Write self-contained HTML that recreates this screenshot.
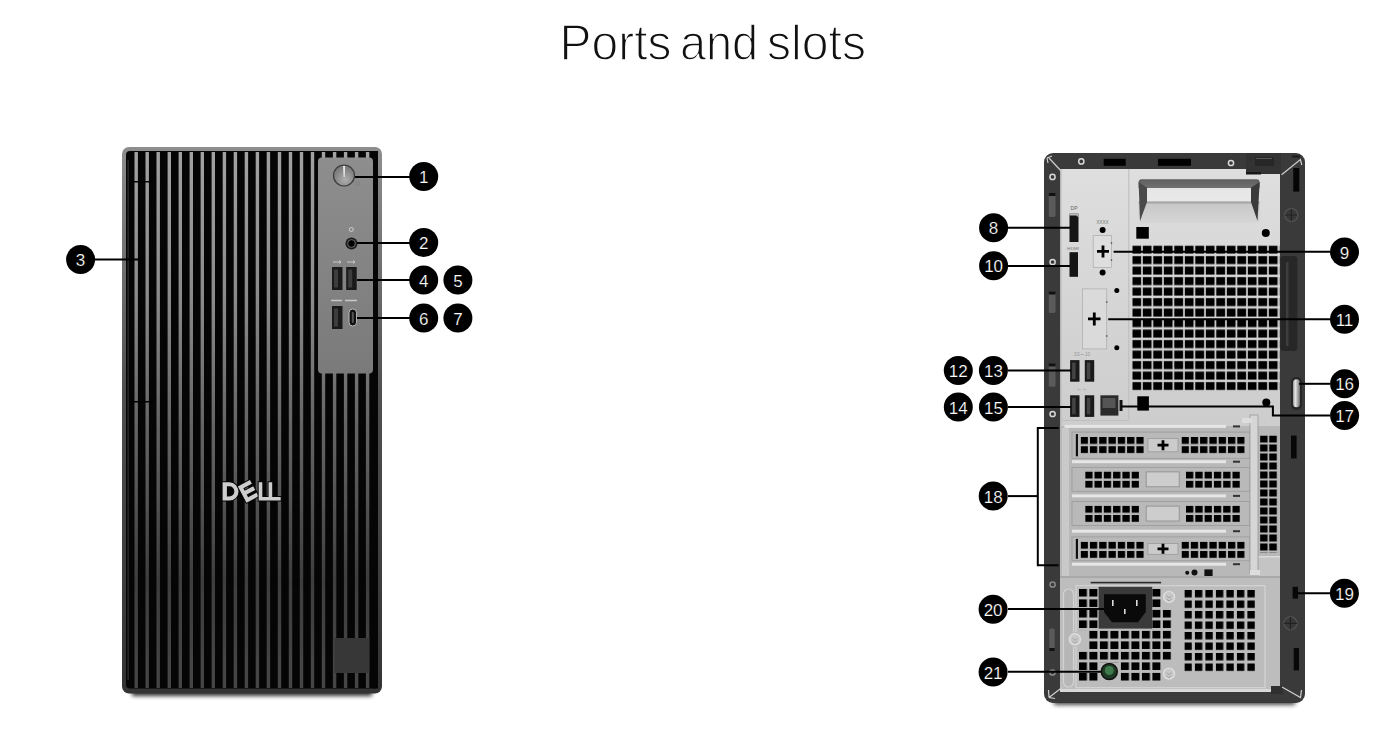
<!DOCTYPE html>
<html><head><meta charset="utf-8">
<style>
html,body{margin:0;padding:0;background:#fff;}
body{width:1376px;height:746px;overflow:hidden;position:relative;}
.title{position:absolute;left:0;top:0;width:1376px;text-align:center;font-family:"Liberation Sans",sans-serif;}
svg{position:absolute;left:0;top:0;}
.n{font-family:"Liberation Sans",sans-serif;font-size:17px;fill:#fff;stroke:#000;stroke-width:0.2px;text-anchor:middle;}
.t{font-family:"Liberation Sans",sans-serif;font-size:50px;fill:#111;}
</style></head><body>
<svg width="1376" height="746" viewBox="0 0 1376 746">
<text x="559.6" y="59.6" class="t" textLength="111.8" lengthAdjust="spacingAndGlyphs" stroke="#fff" stroke-width="1.4">Ports</text>
<text x="679.9" y="59.6" class="t" textLength="78.2" lengthAdjust="spacingAndGlyphs" stroke="#fff" stroke-width="1.4">and</text>
<text x="767" y="59.6" class="t" textLength="99" lengthAdjust="spacingAndGlyphs" stroke="#fff" stroke-width="1.4">slots</text>
<defs><linearGradient id="fbord" x1="0" y1="0" x2="0" y2="1"><stop offset="0" stop-color="#8e8e8e"/><stop offset="0.45" stop-color="#4f4f4f"/><stop offset="1" stop-color="#333"/></linearGradient><linearGradient id="fstripe" x1="0" y1="151" x2="0" y2="690" gradientUnits="userSpaceOnUse"><stop offset="0.000" stop-color="#a2a2a2"/><stop offset="0.091" stop-color="#9a9a9a"/><stop offset="0.276" stop-color="#8a8a8a"/><stop offset="0.499" stop-color="#666"/><stop offset="0.629" stop-color="#565656"/><stop offset="0.796" stop-color="#3e3e3e"/><stop offset="0.944" stop-color="#444"/><stop offset="1.000" stop-color="#444"/></linearGradient><filter id="sblur" x="-5%" y="-5%" width="110%" height="110%"><feGaussianBlur stdDeviation="0.65"/></filter><linearGradient id="fpanel" x1="0" y1="0" x2="0" y2="1"><stop offset="0" stop-color="#8e8e8e"/><stop offset="1" stop-color="#7a7a7a"/></linearGradient><radialGradient id="pbtn" cx="0.55" cy="0.7" r="0.75"><stop offset="0" stop-color="#adadad"/><stop offset="1" stop-color="#6e6e6e"/></radialGradient><linearGradient id="shadow" x1="0" y1="0" x2="0" y2="1"><stop offset="0" stop-color="#000" stop-opacity="0.7"/><stop offset="0.5" stop-color="#000" stop-opacity="0.3"/><stop offset="1" stop-color="#000" stop-opacity="0"/></linearGradient></defs>
<defs><filter id="shb" x="-20%" y="-100%" width="140%" height="300%"><feGaussianBlur stdDeviation="2.2"/></filter></defs>
<rect x="132" y="689" width="240" height="7" fill="#000" opacity="0.8" filter="url(#shb)"/>
<rect x="122" y="147" width="260" height="546.6" rx="7" fill="url(#fbord)"/>
<rect x="126" y="151" width="252" height="537.5" rx="4" fill="#050505"/>
<g filter="url(#sblur)">
<rect x="134.5" y="152" width="3.4" height="536" fill="url(#fstripe)"/>
<rect x="145.5" y="152" width="3.4" height="536" fill="url(#fstripe)"/>
<rect x="156.5" y="152" width="3.4" height="536" fill="url(#fstripe)"/>
<rect x="167.6" y="152" width="3.4" height="536" fill="url(#fstripe)"/>
<rect x="178.6" y="152" width="3.4" height="536" fill="url(#fstripe)"/>
<rect x="189.6" y="152" width="3.4" height="536" fill="url(#fstripe)"/>
<rect x="200.6" y="152" width="3.4" height="536" fill="url(#fstripe)"/>
<rect x="211.6" y="152" width="3.4" height="536" fill="url(#fstripe)"/>
<rect x="222.7" y="152" width="3.4" height="536" fill="url(#fstripe)"/>
<rect x="233.7" y="152" width="3.4" height="536" fill="url(#fstripe)"/>
<rect x="244.7" y="152" width="3.4" height="536" fill="url(#fstripe)"/>
<rect x="255.7" y="152" width="3.4" height="536" fill="url(#fstripe)"/>
<rect x="266.7" y="152" width="3.4" height="536" fill="url(#fstripe)"/>
<rect x="277.8" y="152" width="3.4" height="536" fill="url(#fstripe)"/>
<rect x="288.8" y="152" width="3.4" height="536" fill="url(#fstripe)"/>
<rect x="299.8" y="152" width="3.4" height="536" fill="url(#fstripe)"/>
<rect x="310.8" y="152" width="3.4" height="536" fill="url(#fstripe)"/>
<rect x="321.8" y="152" width="3.4" height="536" fill="url(#fstripe)"/>
<rect x="332.9" y="152" width="3.4" height="536" fill="url(#fstripe)"/>
<rect x="343.9" y="152" width="3.4" height="536" fill="url(#fstripe)"/>
<rect x="354.9" y="152" width="3.4" height="536" fill="url(#fstripe)"/>
<rect x="365.9" y="152" width="3.4" height="536" fill="url(#fstripe)"/>
</g>
<rect x="127.5" y="160" width="1.2" height="520" fill="#333"/>
<rect x="318" y="157.5" width="55" height="216" rx="4" fill="url(#fpanel)"/>
<rect x="373" y="151" width="5" height="537.5" fill="#050505"/>
<circle cx="344" cy="175.5" r="10.5" fill="url(#pbtn)" stroke="#3a3a3a" stroke-width="1.2"/>
<path d="M343,166 L345.2,166 L344.7,177 L343.6,177 Z" fill="#e6e6e6"/>
<circle cx="357.5" cy="183.5" r="2" fill="none" stroke="#7a7a7a" stroke-width="0.7"/>
<circle cx="351.3" cy="229.5" r="2" fill="none" stroke="#d0d0d0" stroke-width="1"/>
<circle cx="351.5" cy="243.5" r="6" fill="#1c1c1c"/>
<circle cx="351.5" cy="243.5" r="3.9" fill="none" stroke="#707070" stroke-width="0.9"/>
<circle cx="351.5" cy="243.5" r="2.9" fill="#000"/>
<path d="M333,262 h8 M339,260.5 l2,1.5 l-2,1.5 M347,262 h8 M353,260.5 l2,1.5 l-2,1.5" stroke="#c8c8c8" stroke-width="1" fill="none"/>
<rect x="332" y="267" width="10.5" height="23" fill="#1a1a1a"/>
<rect x="334" y="269.5" width="4" height="18" fill="#3d3d3d"/>
<rect x="346.2" y="267" width="10.5" height="23" fill="#1a1a1a"/>
<rect x="348.2" y="269.5" width="4" height="18" fill="#3d3d3d"/>
<path d="M331,300.5 h11 M345,300.5 h12" stroke="#c8c8c8" stroke-width="1.6" fill="none"/>
<rect x="332" y="306" width="10.5" height="23" fill="#1a1a1a"/>
<rect x="334" y="308.5" width="4" height="18" fill="#3d3d3d"/>
<rect x="349" y="309" width="7.6" height="17" rx="3.8" fill="#111" stroke="#bbb" stroke-width="1"/>
<rect x="351.8" y="312" width="2" height="11" rx="1" fill="#555"/>
<rect x="334.4" y="638" width="35" height="35" fill="#373737"/>
<g fill="#cdcdcd" stroke="#060606" stroke-width="2" paint-order="stroke"><path fill-rule="evenodd" d="M222.6,482.2 h6.7 a9.2,9.2 0 0 1 0,18.4 h-6.7 z M226.9,486.3 v10.2 h2.4 a5.1,5.1 0 0 0 0,-10.2 z"/><path fill-rule="evenodd" transform="rotate(-28 248.2 491.4)" d="M241.4,482.2 h13.6 v18.4 h-13.6 z M245.4,486.3 h9.6 v3 h-9.6 z M245.4,493.5 h9.6 v3 h-9.6 z"/><path d="M258.7,482.2 h3.6 v14.7 h6.3 v-14.7 h3.6 v14.7 h8.5 v3.7 h-22 z"/></g>
<rect x="131" y="181" width="22" height="1.5" fill="#000"/>
<rect x="131" y="401" width="22" height="1.5" fill="#000"/>
<path d="M355,177 L410,177" stroke="#000" stroke-width="2" fill="none"/>
<circle cx="423.7" cy="176.5" r="14.5" fill="#000"/>
<text x="423.7" y="183.1" class="n">1</text>
<path d="M357,243 L410,243" stroke="#000" stroke-width="2" fill="none"/>
<circle cx="423.7" cy="242.5" r="14.5" fill="#000"/>
<text x="423.7" y="249.1" class="n">2</text>
<path d="M95,259.4 L140,259.4" stroke="#000" stroke-width="2" fill="none"/>
<circle cx="80.6" cy="259.4" r="14.5" fill="#000"/>
<text x="80.6" y="266.0" class="n">3</text>
<path d="M357,280 L410,280" stroke="#000" stroke-width="2" fill="none"/>
<circle cx="423.7" cy="279.9" r="14.5" fill="#000"/>
<text x="423.7" y="286.5" class="n">4</text>
<circle cx="457.9" cy="279.9" r="14.5" fill="#000"/>
<text x="457.9" y="286.5" class="n">5</text>
<path d="M357,318 L410,318" stroke="#000" stroke-width="2" fill="none"/>
<circle cx="423.7" cy="318" r="14.5" fill="#000"/>
<text x="423.7" y="324.6" class="n">6</text>
<circle cx="457.9" cy="318" r="14.5" fill="#000"/>
<text x="457.9" y="324.6" class="n">7</text>
<defs><linearGradient id="hdl" x1="0" y1="0" x2="0" y2="1"><stop offset="0" stop-color="#5e5e5e"/><stop offset="0.19" stop-color="#707070"/><stop offset="0.2" stop-color="#e6e6e6"/><stop offset="0.5" stop-color="#e8e8e8"/><stop offset="0.52" stop-color="#9a9a9a"/><stop offset="0.58" stop-color="#c8c8c8"/><stop offset="1" stop-color="#d6d6d6"/></linearGradient><linearGradient id="bshadow" x1="0" y1="0" x2="0" y2="1"><stop offset="0" stop-color="#000" stop-opacity="0.15"/><stop offset="1" stop-color="#000" stop-opacity="0"/></linearGradient></defs>
<rect x="1054" y="698" width="241" height="7" fill="#000" opacity="0.7" filter="url(#shb)"/>
<rect x="1044" y="153" width="261" height="550" rx="9" fill="#3a3a3a"/>
<defs><linearGradient id="silv" x1="0" y1="0" x2="0" y2="1"><stop offset="0" stop-color="#dedede"/><stop offset="1" stop-color="#cdcdcd"/></linearGradient></defs>
<rect x="1060" y="169" width="220" height="257" fill="url(#silv)"/>
<rect x="1060" y="169" width="1.5" height="257" fill="#b8b8b8"/>
<rect x="1128.3" y="169" width="1" height="251" fill="#bdbdbd"/>
<rect x="1060" y="420" width="69" height="1" fill="#c0c0c0"/>
<path d="M1246,153 H1281 V174 H1246 Z" fill="#333"/>
<rect x="1255" y="157" width="19" height="9" fill="#272727"/>
<rect x="1256" y="158" width="16" height="1" fill="#5a5a5a"/>
<rect x="1246" y="172" width="15" height="2.5" fill="#161616"/>
<rect x="1292" y="155.5" width="8" height="2" fill="#1a1a1a"/>
<path d="M1281.6,174.8 L1300.4,159.6 L1301.8,165" stroke="#cfcfcf" stroke-width="1.2" fill="none"/>
<path d="M1049,158 L1062,172" stroke="#cfcfcf" stroke-width="1.2"/>
<path d="M1047,158 L1052,156 M1047,158 L1048,163" stroke="#cfcfcf" stroke-width="1.2"/>
<rect x="1103.7" y="158.8" width="22" height="7" fill="#000"/>
<rect x="1158" y="158.8" width="33" height="7" fill="#000"/>
<circle cx="1081.3" cy="161.4" r="2.6" fill="none" stroke="#d8d8d8" stroke-width="1.5"/>
<circle cx="1231" cy="163" r="2.6" fill="none" stroke="#d8d8d8" stroke-width="1.5"/>
<circle cx="1052.5" cy="176.9" r="2.6" fill="none" stroke="#d8d8d8" stroke-width="1.5"/>
<circle cx="1052.6" cy="262" r="2.6" fill="none" stroke="#d8d8d8" stroke-width="1.5"/>
<circle cx="1052.6" cy="414" r="2.6" fill="none" stroke="#d8d8d8" stroke-width="1.5"/>
<circle cx="1052.6" cy="584.5" r="2.6" fill="none" stroke="#8a8a8a" stroke-width="1.5"/>
<circle cx="1052.5" cy="672.5" r="2.6" fill="none" stroke="#8a8a8a" stroke-width="1.5"/>
<rect x="1048.8" y="193" width="6.7" height="24" rx="1.5" fill="#5a5a5a"/>
<rect x="1048.8" y="193" width="6.7" height="3" fill="#111"/>
<rect x="1048.8" y="291.5" width="6.7" height="21.5" rx="1.5" fill="#5a5a5a"/>
<rect x="1048.8" y="291.5" width="6.7" height="3" fill="#111"/>
<rect x="1048.8" y="363.4" width="6.7" height="23.30000000000001" rx="1.5" fill="#5a5a5a"/>
<rect x="1048.8" y="363.4" width="6.7" height="3" fill="#111"/>
<rect x="1049.3" y="628.6" width="5.4" height="22.5" rx="1.5" fill="#5a5a5a"/>
<rect x="1049.3" y="648" width="5.4" height="3" fill="#111"/>
<rect x="1293.3" y="168" width="6" height="23.6" fill="#050505"/>
<circle cx="1291.3" cy="215" r="6.5" fill="#383838" stroke="#4e4e4e" stroke-width="1.6"/>
<path d="M1285,215 H1297 M1291.3,209 V221" stroke="#222" stroke-width="1.2"/>
<rect x="1280.3" y="256" width="17" height="95" rx="3" fill="#272727"/>
<rect x="1286" y="262" width="2.5" height="84" fill="#3e3e3e"/>
<defs><linearGradient id="ring" x1="0" y1="0" x2="1" y2="0"><stop offset="0" stop-color="#9a9a9a"/><stop offset="0.35" stop-color="#e4e4e4"/><stop offset="1" stop-color="#6a6a6a"/></linearGradient></defs>
<rect x="1291" y="377" width="11" height="33" rx="5" fill="#262626"/>
<rect x="1293" y="379.3" width="7" height="28" rx="3.5" fill="url(#ring)"/>
<rect x="1291" y="435.5" width="5.6" height="23" fill="#080808"/>
<rect x="1292.6" y="586.8" width="5.4" height="11.8" fill="#080808"/>
<circle cx="1290.5" cy="623.3" r="6.5" fill="#383838" stroke="#4e4e4e" stroke-width="1.6"/>
<path d="M1284,623.3 H1297 M1290.5,617 V629.5" stroke="#222" stroke-width="1.2"/>
<rect x="1293.7" y="648" width="5.3" height="22.4" fill="#080808"/>
<rect x="1138.6" y="179.2" width="121" height="43.7" rx="3" fill="url(#hdl)"/>
<path d="M1138.6,182 L1147,187.8 V202 L1140,221 Z" fill="#4a4a4a"/>
<path d="M1259.7,182 L1251,187.8 V202 L1257.5,221 Z" fill="#3a3a3a"/>
<rect x="1136.3" y="227" width="12.5" height="11.7" fill="#000"/>
<circle cx="1265.8" cy="233" r="4" fill="#000"/>
<defs><pattern id="mesh" x="1132.3" y="245.4" width="10.5" height="10.5" patternUnits="userSpaceOnUse"><rect x="0" y="0.2" width="8.8" height="8.0" fill="#000"/></pattern></defs>
<rect x="1132.3" y="245.4" width="147" height="145" fill="url(#mesh)"/>
<rect x="1069.5" y="213.6" width="9" height="28.4" fill="#151515"/>
<path d="M1069.5,213.6 h9 v4 l-2,-2 h-7 z" fill="#bbb"/>
<text x="1074" y="210" font-family="Liberation Sans" font-size="5" fill="#666" text-anchor="middle">DP</text>
<rect x="1069.5" y="252.2" width="8.5" height="24.6" fill="#151515"/>
<text x="1073" y="249.5" font-family="Liberation Sans" font-size="3.6" fill="#777" text-anchor="middle" textLength="12" lengthAdjust="spacingAndGlyphs">HDMI</text>
<rect x="1093.2" y="235.4" width="18.2" height="32" fill="#dedede" stroke="#b0b0b0" stroke-width="0.8"/>
<path d="M1097,251.4 H1109 M1103,245.5 V257.5" stroke="#000" stroke-width="2.8"/>
<circle cx="1102.6" cy="230" r="3" fill="#000"/><circle cx="1102.6" cy="272.4" r="3" fill="#000"/>
<text x="1102.6" y="224" font-family="Liberation Sans" font-size="4.5" fill="#777" text-anchor="middle">XXXX</text>
<rect x="1082.5" y="288.9" width="24.2" height="60" fill="#dadada" stroke="#b0b0b0" stroke-width="0.8"/>
<path d="M1088,318.9 H1100.5 M1094.3,312.5 V325.5" stroke="#000" stroke-width="2.8"/>
<circle cx="1116.8" cy="290.4" r="2.5" fill="#000"/><circle cx="1116.8" cy="347.8" r="2.5" fill="#000"/>
<circle cx="1111.4" cy="243" r="0.9" fill="#666"/><circle cx="1111.4" cy="260" r="0.9" fill="#666"/><circle cx="1106.7" cy="302" r="0.9" fill="#666"/><circle cx="1106.7" cy="336" r="0.9" fill="#666"/>
<rect x="1070.1" y="360.1" width="9.4" height="21.6" fill="#1a1a1a"/>
<rect x="1072.1" y="362.6" width="3.5" height="16.5" fill="#444"/>
<rect x="1084.8" y="360.1" width="9.4" height="21.6" fill="#1a1a1a"/>
<rect x="1086.8" y="362.6" width="3.5" height="16.5" fill="#444"/>
<rect x="1070.1" y="395.3" width="9.4" height="21.6" fill="#1a1a1a"/>
<rect x="1072.1" y="397.8" width="3.5" height="16.5" fill="#444"/>
<rect x="1084.8" y="395.3" width="9.4" height="21.6" fill="#1a1a1a"/>
<rect x="1086.8" y="397.8" width="3.5" height="16.5" fill="#444"/>
<text x="1082" y="356" font-family="Liberation Sans" font-size="4.5" fill="#999" text-anchor="middle" font-style="italic">SS⇐ 10</text>
<text x="1082" y="391" font-family="Liberation Sans" font-size="4.5" fill="#aaa" text-anchor="middle">⇐ ⇐</text>
<rect x="1100.4" y="395.3" width="18" height="20.3" fill="#2a2a2a"/>
<rect x="1102.5" y="398" width="13" height="10" fill="#555"/>
<rect x="1119.5" y="400" width="3" height="11" fill="#111"/>
<rect x="1137.3" y="396.3" width="11.6" height="14.3" fill="#000"/>
<circle cx="1266.3" cy="402.4" r="4" fill="#000"/>
<rect x="1060" y="426" width="220" height="152" fill="#b8b8b8"/>
<rect x="1258.5" y="556" width="21.5" height="21" fill="#c4c4c4"/>
<rect x="1258.5" y="556" width="21.5" height="1.5" fill="#dadada"/>
<rect x="1062" y="428" width="7" height="150" fill="#c9c9c9"/>
<defs><pattern id="pci" x="0" y="0" width="9.3" height="9.35" patternUnits="userSpaceOnUse"><rect x="0" y="0" width="7.3" height="7" fill="#000"/></pattern><pattern id="pcir" x="1260.1" y="435.5" width="9.2" height="9.0" patternUnits="userSpaceOnUse"><rect x="0" y="0" width="7.5" height="7" fill="#000"/></pattern></defs>
<rect x="1072" y="432.1" width="178" height="26.2" fill="#b9b9b9" stroke="#9a9a9a" stroke-width="0.8"/>
<rect x="1075.8" y="434.1" width="2.2" height="22.2" fill="#111"/>
<g transform="translate(1080.6,436.90000000000003)"><rect x="0" y="0" width="63.2" height="16.4" fill="url(#pci)"/></g>
<g transform="translate(1181.5,436.90000000000003)"><rect x="0" y="0" width="63.2" height="16.4" fill="url(#pci)"/></g>
<rect x="1147.9" y="438.6" width="30.1" height="13.2" fill="#cbcbcb" stroke="#9a9a9a" stroke-width="0.8"/>
<path d="M1157.5,445.20000000000005 H1168.5 M1163,440.20000000000005 V450.20000000000005" stroke="#000" stroke-width="2.8"/>
<rect x="1072" y="467.4" width="178" height="23.9" fill="#b9b9b9" stroke="#9a9a9a" stroke-width="0.8"/>
<g transform="translate(1085.2,471.5)"><rect x="0" y="0" width="53.9" height="16.4" fill="url(#pci)"/></g>
<g transform="translate(1186,471.5)"><rect x="0" y="0" width="53.9" height="16.4" fill="url(#pci)"/></g>
<rect x="1146.2" y="471.9" width="33" height="14.9" fill="#cdcdcd" stroke="#8a8a8a" stroke-width="0.8"/>
<rect x="1072" y="501.6" width="178" height="23.9" fill="#b9b9b9" stroke="#9a9a9a" stroke-width="0.8"/>
<g transform="translate(1085.2,505.70000000000005)"><rect x="0" y="0" width="53.9" height="16.4" fill="url(#pci)"/></g>
<g transform="translate(1186,505.70000000000005)"><rect x="0" y="0" width="53.9" height="16.4" fill="url(#pci)"/></g>
<rect x="1146.2" y="506.1" width="33" height="14.9" fill="#cdcdcd" stroke="#8a8a8a" stroke-width="0.8"/>
<rect x="1072" y="536.9" width="178" height="23.9" fill="#b9b9b9" stroke="#9a9a9a" stroke-width="0.8"/>
<rect x="1075.8" y="538.9" width="2.2" height="19.9" fill="#111"/>
<g transform="translate(1080.6,541.6999999999999)"><rect x="0" y="0" width="63.2" height="16.4" fill="url(#pci)"/></g>
<g transform="translate(1181.5,541.6999999999999)"><rect x="0" y="0" width="63.2" height="16.4" fill="url(#pci)"/></g>
<rect x="1147.9" y="543.4" width="30.1" height="10.9" fill="#cbcbcb" stroke="#9a9a9a" stroke-width="0.8"/>
<path d="M1157.5,548.8499999999999 H1168.5 M1163,543.8499999999999 V553.8499999999999" stroke="#000" stroke-width="2.8"/>
<rect x="1064.5" y="424.9" width="161.5" height="3" fill="#e6e6e6"/>
<rect x="1233" y="425.4" width="7" height="2" fill="#333"/>
<rect x="1072" y="460.2" width="154" height="3" fill="#e6e6e6"/>
<rect x="1233" y="460.7" width="7" height="2" fill="#333"/>
<rect x="1072" y="494.4" width="154" height="3" fill="#e6e6e6"/>
<rect x="1233" y="494.9" width="7" height="2" fill="#333"/>
<rect x="1072" y="529.7" width="154" height="3" fill="#e6e6e6"/>
<rect x="1233" y="530.2" width="7" height="2" fill="#333"/>
<rect x="1072" y="562.7" width="154" height="3" fill="#e6e6e6"/>
<rect x="1233" y="563.2" width="7" height="2" fill="#333"/>
<rect x="1260.1" y="435.5" width="17.5" height="117" fill="url(#pcir)"/>
<rect x="1250" y="415" width="8" height="158" fill="#d6d6d6" stroke="#999" stroke-width="0.8"/>
<rect x="1242" y="418" width="10" height="5" fill="#ddd"/>
<rect x="1250" y="570" width="10" height="5" fill="#ddd"/>
<circle cx="1187.2" cy="572.7" r="2" fill="#111"/><circle cx="1194.5" cy="572.5" r="3" fill="#111"/>
<rect x="1204.4" y="569.4" width="8.2" height="6.9" fill="#111"/>
<rect x="1060" y="576" width="220" height="2" fill="#a8a8a8"/>
<rect x="1060" y="578" width="220" height="114" fill="#bdbdbd"/>
<rect x="1076" y="585.7" width="189" height="102" fill="#bcbcbc" stroke="#d4d4d4" stroke-width="1.2"/>
<rect x="1063.5" y="589" width="10" height="98" rx="5" fill="#b6b6b6" stroke="#d2d2d2" stroke-width="1.2"/>
<rect x="1090.6" y="581.8" width="70.5" height="1.6" fill="#2a2a2a"/>
<defs><pattern id="psu" x="1078.9" y="588.9" width="10.5" height="10.5" patternUnits="userSpaceOnUse"><rect x="0" y="0" width="8" height="7.6" fill="#000"/></pattern><pattern id="psu2" x="1184.4" y="590" width="10.5" height="10.5" patternUnits="userSpaceOnUse"><rect x="0" y="0" width="7.4" height="7.4" fill="#000"/></pattern></defs>
<rect x="1078.9" y="588.9" width="82" height="94" fill="url(#psu)"/>
<rect x="1160.9" y="609.9" width="10.5" height="52" fill="url(#psu)"/>
<rect x="1184.4" y="590" width="71" height="83" fill="url(#psu2)"/>
<rect x="1077.5" y="630.5" width="10.5" height="20" fill="#bcbcbc"/>
<rect x="1098.6" y="586.8" width="53.6" height="41.8" fill="#3a3a3a"/>
<path d="M1104,594.3 H1145.8 V612 L1138,622.2 H1112 L1104,612 Z" fill="#0a0a0a"/>
<rect x="1112" y="600" width="1.6" height="6" fill="#ddd"/><rect x="1136" y="600" width="1.6" height="6" fill="#ddd"/><rect x="1124" y="609" width="1.6" height="5" fill="#ddd"/>
<rect x="1098.6" y="662.3" width="21.5" height="21" fill="#bcbcbc"/>
<circle cx="1109.3" cy="671.5" r="8" fill="#1d3a24" stroke="#111" stroke-width="1.5"/>
<circle cx="1109.3" cy="670.5" r="4.5" fill="#3f7a4c"/>
<circle cx="1169" cy="596.9" r="7.5" fill="#bcbcbc"/>
<circle cx="1169" cy="596.9" r="5.5" fill="#c8c8c8" stroke="#dedede" stroke-width="1.4"/>
<path d="M1166.5,595.9 l2.5,2 l2.5,-2 M1166.5,598.9 l2.5,2 l2.5,-2" stroke="#999" stroke-width="0.8" fill="none"/>
<circle cx="1075" cy="639.3" r="7.5" fill="#bcbcbc"/>
<circle cx="1075" cy="639.3" r="5.5" fill="#c8c8c8" stroke="#dedede" stroke-width="1.4"/>
<path d="M1072.5,638.3 l2.5,2 l2.5,-2 M1072.5,641.3 l2.5,2 l2.5,-2" stroke="#999" stroke-width="0.8" fill="none"/>
<circle cx="1169" cy="673.6" r="7.5" fill="#bcbcbc"/>
<circle cx="1169" cy="673.6" r="5.5" fill="#c8c8c8" stroke="#dedede" stroke-width="1.4"/>
<path d="M1166.5,672.6 l2.5,2 l2.5,-2 M1166.5,675.6 l2.5,2 l2.5,-2" stroke="#999" stroke-width="0.8" fill="none"/>
<rect x="1060" y="689" width="220" height="3" fill="#d8d8d8"/>
<path d="M1049,697.5 L1062,687.5 M1049,697.5 L1048.5,690 M1049,697.5 L1055,698.5" stroke="#cfcfcf" stroke-width="1.2" fill="none"/>
<rect x="1271" y="686" width="12" height="8" fill="#2f2f2f"/>
<path d="M1282,687 L1300.5,697.5 L1301.5,690" stroke="#cfcfcf" stroke-width="1.2" fill="none"/>
<path d="M1008,227.8 L1070,227.8" stroke="#000" stroke-width="2" fill="none"/>
<circle cx="993.6" cy="227.8" r="14.5" fill="#000"/>
<text x="993.6" y="234.4" class="n">8</text>
<path d="M1113.6,251.8 L1330,251.8" stroke="#000" stroke-width="2" fill="none"/>
<circle cx="1344.5" cy="252.1" r="14.5" fill="#000"/>
<text x="1344.5" y="258.7" class="n">9</text>
<path d="M1008,265.9 L1070,265.9" stroke="#000" stroke-width="2" fill="none"/>
<circle cx="993.6" cy="265.8" r="14.5" fill="#000"/>
<text x="993.6" y="272.40000000000003" class="n">10</text>
<path d="M1108.2,319.2 L1330,319.2" stroke="#000" stroke-width="2" fill="none"/>
<circle cx="1344.5" cy="319.2" r="14.5" fill="#000"/>
<text x="1344.5" y="325.8" class="n">11</text>
<path d="M1008,370.5 L1071,370.5" stroke="#000" stroke-width="2" fill="none"/>
<circle cx="958.3" cy="370.6" r="14.5" fill="#000"/>
<text x="958.3" y="377.20000000000005" class="n">12</text>
<circle cx="993.4" cy="370.6" r="14.5" fill="#000"/>
<text x="993.4" y="377.20000000000005" class="n">13</text>
<path d="M1299,383.8 L1330,383.8" stroke="#000" stroke-width="2" fill="none"/>
<circle cx="1344.6" cy="383.8" r="14.5" fill="#000"/>
<text x="1344.6" y="390.40000000000003" class="n">16</text>
<path d="M1008,407 L1071,407" stroke="#000" stroke-width="2" fill="none"/>
<circle cx="958.3" cy="407" r="14.5" fill="#000"/>
<text x="958.3" y="413.6" class="n">14</text>
<circle cx="993.4" cy="407" r="14.5" fill="#000"/>
<text x="993.4" y="413.6" class="n">15</text>
<path d="M1121.4,406.4 L1272.9,406.4 L1272.9,415.6 L1330,415.6" stroke="#000" stroke-width="2" fill="none"/>
<circle cx="1344.6" cy="415.5" r="14.5" fill="#000"/>
<text x="1344.6" y="422.1" class="n">17</text>
<path d="M1058.6,428 L1037.8,428 L1037.8,565.2 L1058.6,565.2" stroke="#000" stroke-width="2" fill="none"/>
<path d="M1008,496.1 L1037.8,496.1" stroke="#000" stroke-width="2" fill="none"/>
<circle cx="993.2" cy="496.1" r="14.5" fill="#000"/>
<text x="993.2" y="502.70000000000005" class="n">18</text>
<path d="M1297,593.3 L1330,593.3" stroke="#000" stroke-width="2" fill="none"/>
<circle cx="1344.4" cy="593.3" r="14.5" fill="#000"/>
<text x="1344.4" y="599.9" class="n">19</text>
<path d="M1008,609 L1104,609" stroke="#000" stroke-width="2" fill="none"/>
<circle cx="993.1" cy="609.2" r="14.5" fill="#000"/>
<text x="993.1" y="615.8000000000001" class="n">20</text>
<path d="M1008,671.7 L1101,671.7" stroke="#000" stroke-width="2" fill="none"/>
<circle cx="993.1" cy="672" r="14.5" fill="#000"/>
<text x="993.1" y="678.6" class="n">21</text>
</svg>
</body></html>
